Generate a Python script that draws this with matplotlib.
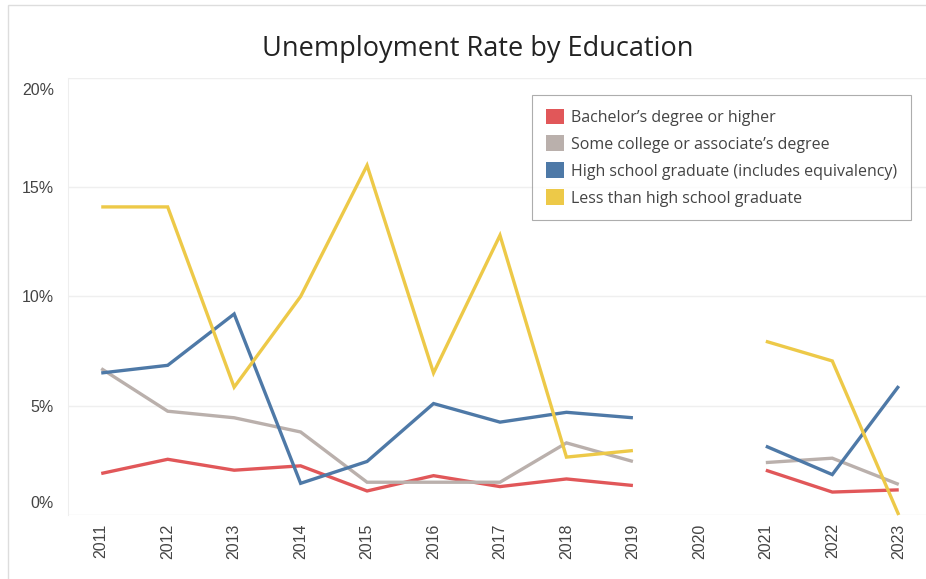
import numpy as np
import matplotlib
matplotlib.use("Agg")
import matplotlib.pyplot as plt
from matplotlib.patches import Patch, Rectangle
from matplotlib.ticker import FuncFormatter
from matplotlib.transforms import ScaledTranslation

plt.rcParams['font.family'] = ['Open Sans', 'DejaVu Sans']

years = [2011, 2012, 2013, 2014, 2015, 2016, 2017, 2018, 2019, 2020, 2021, 2022, 2023]
nan = np.nan

bachelors = [1.9, 2.55, 2.05, 2.25, 1.1, 1.8, 1.3, 1.65, 1.35, nan, 2.05, 1.05, 1.15]
some_college = [6.7, 4.75, 4.45, 3.8, 1.5, 1.5, 1.5, 3.3, 2.45, nan, 2.4, 2.6, 1.4]
high_school = [6.5, 6.85, 9.2, 1.45, 2.45, 5.1, 4.25, 4.7, 4.45, nan, 3.15, 1.85, 5.9]
less_than_hs = [14.1, 14.1, 5.85, 10.0, 16.0, 6.5, 12.8, 2.65, 2.95, nan, 7.95, 7.05, 0.0]

series_names = [
    "Bachelor\u2019s degree or higher",
    "Some college or associate\u2019s degree",
    "High school graduate (includes equivalency)",
    "Less than high school graduate",
]
series_colors = ["#e15759", "#bab0ac", "#4e79a7", "#edc948"]
y_ticks = [0, 5, 10, 15, 20]

fig = plt.figure(figsize=(9.26, 5.79), dpi=100)
ax = fig.add_axes([68 / 926, 1 - 515 / 579, (926 - 68) / 926, (515 - 78) / 579])

# draw lines back to front so yellow sits on top
for values, color in zip([bachelors, some_college, high_school, less_than_hs], series_colors):
    ax.plot(years, values, color=color, lw=2.4, solid_capstyle='butt',
            solid_joinstyle='miter', clip_on=False, zorder=3)

ax.set_xlim(2010.5, 2023.41)
ax.set_ylim(0, 20)
ax.set_yticks(y_ticks)
ax.yaxis.set_major_formatter(FuncFormatter(lambda v, p: f"{int(v)}%"))
ax.set_xticks(years)
ax.set_xticklabels([str(y) for y in years], rotation=90, fontsize=11.5,
                   color="#444444", family=['Liberation Sans', 'DejaVu Sans'])
for lab in ax.get_yticklabels():
    lab.set_fontsize(11.5)
    lab.set_color("#444444")
    lab.set_family(['Liberation Sans', 'DejaVu Sans'])
ax.tick_params(axis='y', length=0, pad=10)
ax.tick_params(axis='x', length=0, pad=6)
ax.grid(axis='y', color="#efefef", lw=1)
ax.set_axisbelow(True)
for side in ['top', 'right', 'bottom']:
    ax.spines[side].set_visible(False)
ax.spines['left'].set_color("#eeeeee")

# keep edge labels inside the plot band
ylabels = ax.get_yticklabels()
ylabels[0].set_verticalalignment('bottom')
ylabels[0].set_transform(ylabels[0].get_transform() + ScaledTranslation(0, 0.04, fig.dpi_scale_trans))
ylabels[-1].set_verticalalignment('top')
ylabels[-1].set_transform(ylabels[-1].get_transform() + ScaledTranslation(0, -0.05, fig.dpi_scale_trans))

fig.text(478 / 926, 1 - 49 / 579, "Unemployment Rate by Education",
         ha='center', va='center', fontsize=19.5, color="#222222")

handles = [Patch(facecolor=c, edgecolor='none') for c in series_colors]
leg = ax.legend(handles, series_names, loc='upper right',
                bbox_to_anchor=(911 / 926, 1 - 95 / 579), bbox_transform=fig.transFigure,
                borderaxespad=0, frameon=True, fontsize=11.5, handlelength=1.15,
                handleheight=1.15, handletextpad=0.45, labelspacing=0.6, borderpad=0.85,
                fancybox=False)
leg.get_frame().set_edgecolor("#999999")
leg.get_frame().set_linewidth(0.8)
for t in leg.get_texts():
    t.set_color("#444444")

# faint worksheet border
fig.add_artist(Rectangle((8 / 926, -0.01), 1.0, 1 - 5 / 579 + 0.01, transform=fig.transFigure,
                         fill=False, edgecolor="#dddddd", lw=1))

fig.savefig("out.png", dpi=100)
